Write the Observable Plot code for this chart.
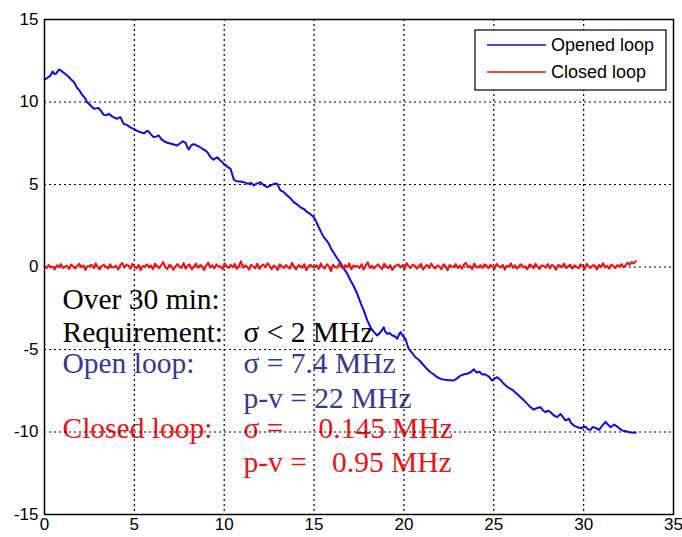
<!DOCTYPE html>
<html><head><meta charset="utf-8">
<script src="https://cdn.jsdelivr.net/npm/d3@7"></script>
<script src="https://cdn.jsdelivr.net/npm/@observablehq/plot@0.6"></script>
<style>body{margin:0;background:#fff}</style>
</head><body><div id="chart"></div>
<script>
// ---- data ----
const xTicks = [0,5,10,15,20,25,30,35];
const yTicks = [-15,-10,-5,0,5,10,15];
const gridXVals = [5,10,15,20,25,30];
const gridYVals = [-10,-5,0,5,10];

const openX = [0,0.15,0.33,0.45,0.55,0.65,0.8,0.92,1.07,1.25,1.45,1.6,1.7,1.82,1.95,2.1,2.25,2.37,2.55,2.75,2.9,3.02,3.15,3.3,3.45,3.58,3.8,4.04,4.12,4.23,4.32,4.41,4.6,4.8,4.97,5.15,5.34,5.55,5.7,5.8,5.95,6.08,6.2,6.36,6.5,6.65,6.83,7.0,7.2,7.38,7.55,7.7,7.85,7.95,8.03,8.15,8.3,8.4,8.6,8.8,8.96,9.1,9.24,9.4,9.5,9.61,9.75,9.85,9.98,10.15,10.35,10.45,10.54,10.7,10.9,11.09,11.3,11.5,11.65,11.8,12.02,12.2,12.39,12.6,12.8,12.95,13.13,13.3,13.5,13.7,13.87,14.05,14.25,14.45,14.62,14.8,14.99,15.12,15.26,15.4,15.54,15.7,15.82,15.95,16.1,16.3,16.47,16.66,16.84,17.03,17.2,17.4,17.6,17.77,17.95,18.14,18.3,18.51,18.7,18.88,18.95,19.07,19.2,19.35,19.5,19.63,19.72,19.81,19.95,20.09,20.18,20.27,20.45,20.64,20.85,21.11,21.3,21.48,21.65,21.85,22.1,22.31,22.55,22.78,22.95,23.15,23.35,23.52,23.71,23.89,24.05,24.2,24.36,24.5,24.73,24.91,25.05,25.19,25.38,25.56,25.8,26.03,26.2,26.39,26.6,26.77,27.0,27.23,27.4,27.6,27.75,27.88,28.0,28.16,28.35,28.53,28.71,28.85,28.99,29.18,29.3,29.46,29.65,29.83,30.1,30.25,30.38,30.5,30.66,30.85,31.05,31.22,31.35,31.5,31.7,31.87,32.0,32.15,32.35,32.52,32.7,32.89];
const openY = [11.36,11.45,11.6,11.85,11.7,11.72,11.97,11.9,11.77,11.62,11.4,11.25,11.1,10.84,10.7,10.43,10.25,9.99,9.8,9.59,9.62,9.63,9.45,9.22,9.2,9.28,9.1,8.98,9.05,9.08,8.85,8.68,8.6,8.45,8.37,8.25,8.17,8.1,8.25,8.21,8.0,7.87,7.9,7.97,7.75,7.62,7.53,7.48,7.42,7.36,7.5,7.62,7.53,7.25,7.12,7.35,7.45,7.4,7.3,7.15,7.06,6.9,6.65,6.5,6.58,6.65,6.5,6.4,6.25,6.1,5.95,5.6,5.28,5.2,5.18,5.14,5.05,5.1,4.94,5.05,5.14,4.95,4.84,4.95,5.05,5.04,4.64,4.55,4.33,4.15,3.93,3.8,3.62,3.5,3.32,3.2,3.02,2.75,2.41,2.1,1.81,1.6,1.41,1.1,0.85,0.5,0.25,-0.1,-0.4,-0.82,-1.15,-1.62,-2.2,-2.64,-3.2,-3.65,-3.9,-4.15,-3.95,-3.65,-3.9,-4.05,-4.0,-4.15,-4.2,-4.35,-4.1,-3.95,-4.2,-4.35,-4.7,-4.96,-5.2,-5.47,-5.65,-5.97,-6.2,-6.38,-6.5,-6.68,-6.8,-6.84,-6.86,-6.88,-6.75,-6.58,-6.5,-6.47,-6.38,-6.2,-6.4,-6.35,-6.52,-6.5,-6.64,-6.88,-6.75,-6.68,-6.85,-7.08,-7.3,-7.44,-7.6,-7.79,-8.0,-8.19,-8.45,-8.65,-8.55,-8.5,-8.7,-8.8,-8.7,-8.8,-9.0,-9.1,-8.9,-9.1,-9.3,-9.2,-9.45,-9.61,-9.7,-9.77,-9.67,-9.85,-9.87,-9.7,-9.75,-9.87,-9.6,-9.38,-9.55,-9.71,-9.55,-9.67,-9.8,-9.91,-9.95,-10.01,-10.03,-10.05];

const closedStart = 0, closedEnd = 32.9;
const closedY = [0.05,-0.08,0.12,-0.02,0.03,-0.15,0.1,0.0,0.18,-0.05,0.02,0.08,-0.12,0.15,0.03,-0.1,0.06,0.2,-0.02,0.1,-0.18,0.04,0.06,0.14,-0.06,0.22,0.0,-0.14,0.07,0.12,0.04,-0.09,0.17,-0.03,0.01,0.08,-0.16,0.11,0.25,-0.04,0.13,0.09,-0.11,0.19,0.02,-0.07,0.14,-0.2,0.06,0.03,0.16,-0.02,0.1,-0.13,0.21,0.05,-0.08,0.11,0.3,0.0,-0.12,0.13,0.07,-0.17,0.02,0.18,0.01,-0.06,0.24,-0.1,0.09,0.15,-0.15,0.04,0.2,-0.05,0.12,0.06,-0.19,0.08,0.27,-0.03,0.11,-0.09,0.16,0.02,0.05,-0.14,0.22,0.06,-0.07,0.13,-0.01,0.19,-0.12,0.05,0.35,-0.04,0.1,0.02,-0.16,0.14,0.03,-0.08,0.2,-0.11,0.07,0.15,-0.02,0.23,0.08,-0.13,0.09,0.01,-0.18,0.17,0.04,-0.06,0.12,0.0,-0.1,0.26,0.0,-0.15,0.11,0.08,-0.05,0.18,-0.2,0.06,0.14,0.02,-0.03,0.1,-0.12,0.21,0.02,-0.09,0.16,0.05,-0.25,0.13,0.0,-0.04,0.19,0.07,-0.11,0.12,-0.02,0.22,-0.14,0.09,0.03,0.06,-0.07,0.17,-0.16,0.1,0.28,-0.06,0.08,-0.1,0.04,0.15,0.01,-0.13,0.2,0.04,-0.08,0.12,-0.18,0.03,0.09,0.16,-0.03,0.11,-0.12,0.24,0.05,-0.06,0.14,0.08,-0.1,0.07,0.19,-0.15,0.02,0.13,-0.05,0.21,0.0,-0.09,0.1,0.03,-0.14,0.17,0.06,-0.2,0.12,0.04,0.0,0.18,-0.07,0.09,-0.11,0.15,0.25,-0.02,0.08,-0.13,0.2,0.04,-0.04,0.12,-0.06,0.16,0.1,-0.08,0.14,0.01,-0.11,0.19,0.05,-0.03,0.13,-0.16,0.08,0.02,0.22,-0.05,0.11,-0.1,0.07,0.17,-0.02,0.04,-0.14,0.15,0.09,-0.07,0.2,0.0,-0.12,0.1,0.06,-0.04,0.18,-0.09,0.13,0.03,-0.17,0.12,0.08,-0.01,0.21,-0.06,0.05,0.14,-0.11,0.1,0.02,-0.08,0.16,0.07,-0.13,0.19,0.04,-0.05,0.11,0.09,-0.15,0.13,0.0,0.23,-0.03,0.08,-0.1,0.15,0.06,-0.07,0.12,0.03,0.18,-0.02,0.1,0.26,0.14,0.3,0.22,0.35];

const seriesNames = ["Opened loop","Closed loop"];
const seriesColors = ["#0b0be6","#f01010"];

const noteTexts = ["Over 30 min:","Requirement:","σ < 2 MHz","Open loop:","σ = 7.4 MHz","p-v = 22 MHz","Closed loop:","σ =","0.145 MHz","p-v =","0.95 MHz"];
const noteX = [1.0,1.0,11.07,1.0,11.07,11.07,1.0,11.07,15.25,11.07,16.0];
const noteY = [-2.52,-4.52,-4.52,-6.45,-6.45,-8.52,-10.39,-10.39,-10.39,-12.45,-12.45];
const noteColors = ["#000","#000","#000","#37379a","#37379a","#37379a","#ee1111","#ee1111","#ee1111","#ee1111","#ee1111"];

// ---- build tables ----
const openData = openX.map((x,i)=>({x, y: openY[i]}));
const closedData = closedY.map((y,i)=>({x: closedStart + i*(closedEnd-closedStart)/(closedY.length-1), y}));
const notes = noteTexts.map((t,i)=>({text:t, x:noteX[i], y:noteY[i], color:noteColors[i]}));

const plot = Plot.plot({
  width: 682, height: 537,
  marginLeft: 44, marginTop: 19, marginRight: 9, marginBottom: 23,
  style: {fontFamily: "Liberation Sans, Arial, Helvetica, sans-serif", fontSize: "17px", background: "#fff", color: "#000", overflow: "visible"},
  x: {domain: [0,35], ticks: xTicks, tickSize: 0, tickPadding: 3, tickFormat: d => String(d), label: null},
  y: {domain: [-15,15], ticks: yTicks, tickSize: 0, tickPadding: 6, tickFormat: d => String(d), label: null},
  color: {type: "identity"},
  marks: [
    Plot.text(notes, {x: "x", y: "y", text: "text", fill: "color", textAnchor: "start", lineAnchor: "bottom", fontFamily: "Liberation Serif, Times New Roman, serif", fontSize: 29.5}),
    Plot.gridX(gridXVals, {stroke: "#000", strokeOpacity: 1, strokeWidth: 1.2, strokeDasharray: "2,3"}),
    Plot.gridY(gridYVals, {stroke: "#000", strokeOpacity: 1, strokeWidth: 1.2, strokeDasharray: "2,3"}),
    Plot.line(openData, {x: "x", y: "y", stroke: seriesColors[0], strokeWidth: 2}),
    Plot.line(closedData, {x: "x", y: "y", stroke: seriesColors[1], strokeWidth: 2}),
    Plot.frame({stroke: "#000", strokeWidth: 1.5})
  ]
});
document.getElementById("chart").appendChild(plot);

// legend box (inside plot area, top-right)
const svg = d3.select(plot);
const lg = svg.append("g").attr("transform", "translate(475,30)").attr("text-anchor", "start");
lg.append("rect").attr("width", 191).attr("height", 60).attr("fill", "#fff").attr("stroke", "#000").attr("stroke-width", 1.2);
seriesNames.forEach((name, i) => {
  const yy = 15 + i*27;
  lg.append("line").attr("x1", 12).attr("x2", 71).attr("y1", yy).attr("y2", yy).attr("stroke", seriesColors[i]).attr("stroke-width", 1.6);
  lg.append("text").attr("x", 76).attr("y", yy + 6).attr("text-anchor", "start").attr("font-family", "Liberation Sans, Arial, Helvetica, sans-serif").attr("font-size", 18).attr("fill", "#000").text(name);
});
</script>
</body></html>
